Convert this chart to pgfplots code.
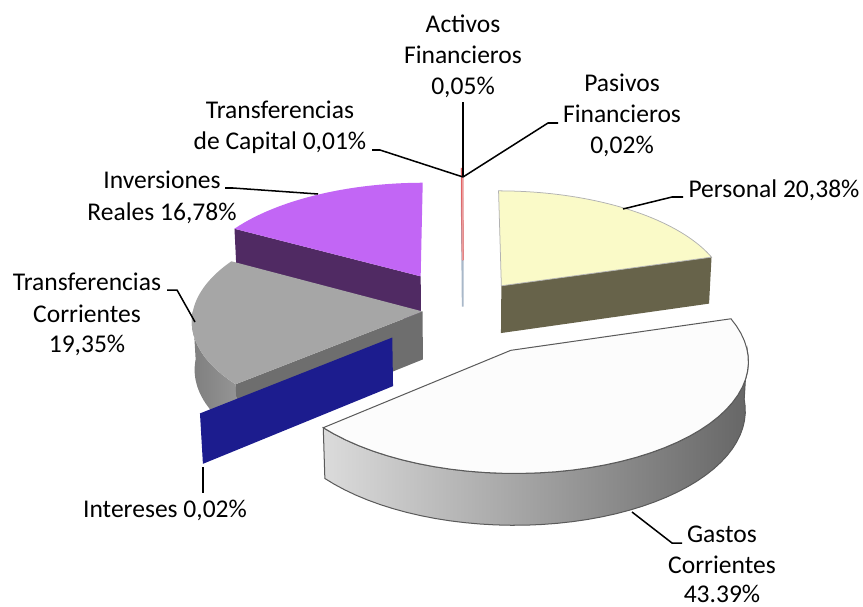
\documentclass[border=0pt]{standalone}
\usepackage{fontspec}
\setmainfont{Carlito}
\usepackage{pgfplots}
\pgfplotsset{compat=1.18}
\definecolor{persTop}{HTML}{FAFAC8}
\definecolor{persSide}{HTML}{67634A}
\definecolor{invTop}{HTML}{C266F5}
\definecolor{invSide}{HTML}{502A63}
\definecolor{tcTop}{HTML}{A6A6A6}
\definecolor{tcCurve}{HTML}{959595}
\definecolor{tcSide}{HTML}{6E6E6E}
\definecolor{intBlue}{HTML}{1C1C8E}
\definecolor{gasTop}{HTML}{FCFCFC}
\definecolor{gasEdge}{HTML}{5A5A5A}
\definecolor{tinyRed}{HTML}{E05A5A}
\definecolor{tinyBlue}{HTML}{A9B8C9}
% slice top face: ox, ow, t1, t2, style
\newcommand\pietop[5]{%
  \addplot[#5, variable=\p, samples at={-1,0,...,41}]
   ({sx(#1,#2,227*(\p+0.5>0)*(\p<40.5),#3+\p*(#4-#3)/40,54)},
    {sy(#1,#2,227*(\p+0.5>0)*(\p<40.5),#3+\p*(#4-#3)/40,54)}) -- cycle;}
% slice curved side: ox, ow, t1, t2, style
\newcommand\piecurve[5]{%
  \addplot[#5, variable=\p, samples at={0,1,...,81}]
   ({sx(#1,#2,227,#3+qq(\p)*(#4-#3)/40,54*(\p<40.5))},
    {sy(#1,#2,227,#3+qq(\p)*(#4-#3)/40,54*(\p<40.5))}) -- cycle;}
% slice radial face: ox, ow, angle, style
\newcommand\pieradial[4]{%
  \addplot[#4, variable=\p, samples at={0,1,2,3}]
   ({sx(#1,#2,227*(\p>0.5)*(\p<2.5),#3,54*(\p<1.5))},
    {sy(#1,#2,227*(\p>0.5)*(\p<2.5),#3,54*(\p<1.5))}) -- cycle;}
\begin{document}
\begin{tikzpicture}[font=\fontsize{10.1}{12.3}\selectfont]
\begin{axis}[name=ax, width=12cm, height=8.4264cm, scale only axis, hide axis,
  xmin=0, xmax=863, ymin=0, ymax=606, clip=false,
  declare function={
    DD(\wa,\za)=1+(\wa*0.8773-\za*0.48)/2500;
    pxx(\ua,\wa,\za)=463+\ua/DD(\wa,\za);
    pyy(\ua,\wa,\za)=248.5+(\wa*0.48+\za*0.8773)/DD(\wa,\za);
    sx(\xa,\xb,\xr,\xt,\xz)=pxx(\xa+\xr*sin(\xt),\xb+\xr*cos(\xt),\xz);
    sy(\xa,\xb,\xr,\xt,\xz)=pyy(\xa+\xr*sin(\xt),\xb+\xr*cos(\xt),\xz);
    qq(\pa)=\pa+(\pa>40.5)*(81-2*\pa);
  }]
% --- tiny slices at the back (Transferencias de Capital, Activos, Pasivos Financieros)
\pieradial{-0.3}{110}{359.748}{fill=tinyBlue, draw=tinyBlue, line width=0.7pt}
\pietop{-0.3}{110}{359.712}{359.748}{fill=tinyRed, draw=tinyRed, line width=0.5pt}
\pietop{-0.3}{110}{359.748}{359.928}{fill=tinyRed, draw=tinyRed, line width=0.7pt}
\pietop{-0.3}{110}{359.928}{360}{fill=tinyRed!60, draw=tinyRed!60, line width=0.5pt}
% --- Inversiones Reales 16,78% (299.304 - 359.712)
\pieradial{-42.98}{72.99}{299.304}{fill=invSide, draw=none}
\pietop{-42.98}{72.99}{299.304}{359.712}{fill=invTop, draw=none}
% --- Personal 20,38% (0 - 73.368)
\pieradial{38.65}{51.88}{73.368}{fill=persSide, draw=none}
\pietop{38.65}{51.88}{0}{73.368}{fill=persTop, draw=gray!60, line width=0.3pt}
% --- Transferencias Corrientes 19,35% (229.644 - 299.304)
\piecurve{-40.01}{-3.87}{229.644}{270}{left color=tcCurve!85!black, right color=tcCurve, draw=none}
\pieradial{-40.01}{-3.87}{229.644}{fill=tcSide, draw=none}
\pietop{-40.01}{-3.87}{229.644}{299.304}{fill=tcTop, draw=none}
% --- Intereses 0,02% (229.572 - 229.644)
\pieradial{-68.54}{-58.33}{229.572}{fill=intBlue, draw=none}
% --- Gastos Corrientes 43,39% (73.368 - 229.572)
\piecurve{45.85}{-84.35}{90}{229.572}{left color=black!14, right color=black!60, draw=gasEdge, line width=0.4pt}
\pietop{45.85}{-84.35}{73.368}{229.572}{fill=gasTop, draw=gasEdge, line width=0.4pt}
% --- leader lines
\draw[line width=0.6pt] (axis cs:463,504) -- (axis cs:463,429);
\draw[line width=0.6pt] (axis cs:558,483) -- (axis cs:548,483) -- (axis cs:463,429);
\draw[line width=0.6pt] (axis cs:372,456) -- (axis cs:380,456) -- (axis cs:463,429);
\draw[line width=0.6pt] (axis cs:225,418) -- (axis cs:233,418) -- (axis cs:318,412);
\draw[line width=0.6pt] (axis cs:167,316) -- (axis cs:177,316) -- (axis cs:195,284);
\draw[line width=0.6pt] (axis cs:203,139) -- (axis cs:203,113);
\draw[line width=0.6pt] (axis cs:623,397) -- (axis cs:672,409) -- (axis cs:683,409);
\draw[line width=0.6pt] (axis cs:632,94) -- (axis cs:672,63) -- (axis cs:682,63);
% --- labels
\node[anchor=base, inner sep=0pt] at (axis cs:463,574) {Activos};
\node[anchor=base, inner sep=0pt] at (axis cs:463,543) {Financieros};
\node[anchor=base, inner sep=0pt] at (axis cs:463,512) {0,05\%};
\node[anchor=base, inner sep=0pt] at (axis cs:622,515) {Pasivos};
\node[anchor=base, inner sep=0pt] at (axis cs:622,484) {Financieros};
\node[anchor=base, inner sep=0pt] at (axis cs:622,453) {0,02\%};
\node[anchor=base, inner sep=0pt] at (axis cs:280,488) {Transferencias};
\node[anchor=base, inner sep=0pt] at (axis cs:280,457) {de Capital 0,01\%};
\node[anchor=base, inner sep=0pt] at (axis cs:162,418) {Inversiones};
\node[anchor=base, inner sep=0pt] at (axis cs:162,386) {Reales 16,78\%};
\node[anchor=base, inner sep=0pt] at (axis cs:87,316) {Transferencias};
\node[anchor=base, inner sep=0pt] at (axis cs:87,284) {Corrientes};
\node[anchor=base, inner sep=0pt] at (axis cs:87,254) {19,35\%};
\node[anchor=base, inner sep=0pt] at (axis cs:165,89) {Intereses 0,02\%};
\node[anchor=base west, inner sep=0pt] at (axis cs:688,409) {Personal 20,38\%};
\node[anchor=base, inner sep=0pt] at (axis cs:722,64) {Gastos};
\node[anchor=base, inner sep=0pt] at (axis cs:722,33) {Corrientes};
\node[anchor=base, inner sep=0pt] at (axis cs:722,4) {43.39\%};
\end{axis}
\pgfresetboundingbox
\path[use as bounding box] (ax.south west) rectangle (ax.north east);
\end{tikzpicture}
\end{document}
